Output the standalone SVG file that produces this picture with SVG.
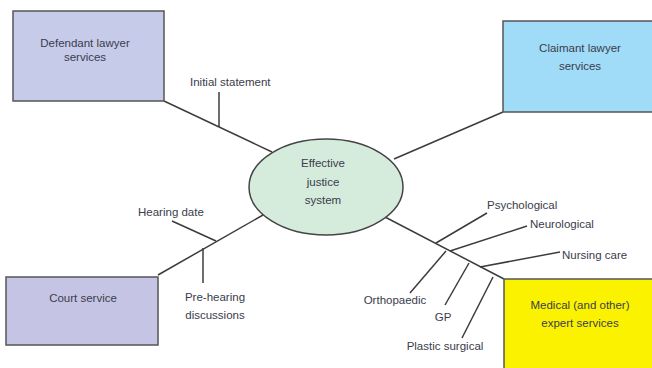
<svg xmlns="http://www.w3.org/2000/svg" width="652" height="368" viewBox="0 0 652 368">
<style>
.box{stroke:#555;stroke-width:1.5}
.ln{stroke:#3c3c3c;stroke-width:1.5;fill:none}
text{font-family:"Liberation Sans",Arial,sans-serif;font-size:11.5px;fill:#3a3c4c}
.c{text-anchor:middle}
</style>
<rect width="652" height="368" fill="#fff"/>
<g id="connectors">
<line class="ln" x1="164" y1="101" x2="272" y2="152"/>
<line class="ln" x1="219" y1="92" x2="219" y2="127"/>
<line class="ln" x1="503" y1="112" x2="394" y2="159"/>
<line class="ln" x1="158" y1="275" x2="263" y2="215"/>
<line class="ln" x1="172" y1="221" x2="216" y2="241"/>
<line class="ln" x1="203" y1="248" x2="203" y2="283"/>
<line class="ln" x1="385" y1="217" x2="504" y2="279"/>
<line class="ln" x1="436" y1="243" x2="487" y2="213"/>
<line class="ln" x1="450" y1="251" x2="527" y2="226"/>
<line class="ln" x1="480" y1="267" x2="560" y2="252"/>
<line class="ln" x1="446" y1="251" x2="410" y2="293"/>
<line class="ln" x1="469" y1="263" x2="445" y2="305"/>
<line class="ln" x1="493" y1="277" x2="462" y2="338"/>
</g>
<g id="defendant">
<rect class="box" x="13" y="11" width="151" height="90" fill="#c7cbea"/>
<text class="c" x="85" y="47">Defendant lawyer</text>
<text class="c" x="85" y="61">services</text>
</g>
<g id="claimant">
<rect class="box" x="503" y="21" width="152" height="91" fill="#a0dcf7"/>
<text class="c" x="580" y="52">Claimant lawyer</text>
<text class="c" x="580" y="70">services</text>
</g>
<g id="court">
<rect class="box" x="6" y="277" width="152" height="68" fill="#c6c4e4"/>
<text class="c" x="83" y="302">Court service</text>
</g>
<g id="medical">
<rect class="box" x="504" y="279" width="152" height="95" fill="#fbf200"/>
<text class="c" x="580" y="309">Medical (and other)</text>
<text class="c" x="580" y="327">expert services</text>
</g>
<g id="system">
<ellipse cx="326" cy="187" rx="77" ry="48" fill="#d5ebdc" stroke="#444" stroke-width="1.5"/>
<text class="c" x="323" y="167">Effective</text>
<text class="c" x="323" y="186">justice</text>
<text class="c" x="323" y="204">system</text>
</g>
<g id="labels">
<text x="190" y="86">Initial statement</text>
<text x="138" y="216">Hearing date</text>
<text class="c" x="215" y="301">Pre-hearing</text>
<text class="c" x="215" y="319">discussions</text>
<text x="487" y="209">Psychological</text>
<text x="530" y="228">Neurological</text>
<text x="562" y="259">Nursing care</text>
<text class="c" x="395" y="304">Orthopaedic</text>
<text class="c" x="443" y="321">GP</text>
<text class="c" x="445" y="350">Plastic surgical</text>
</g>
</svg>
